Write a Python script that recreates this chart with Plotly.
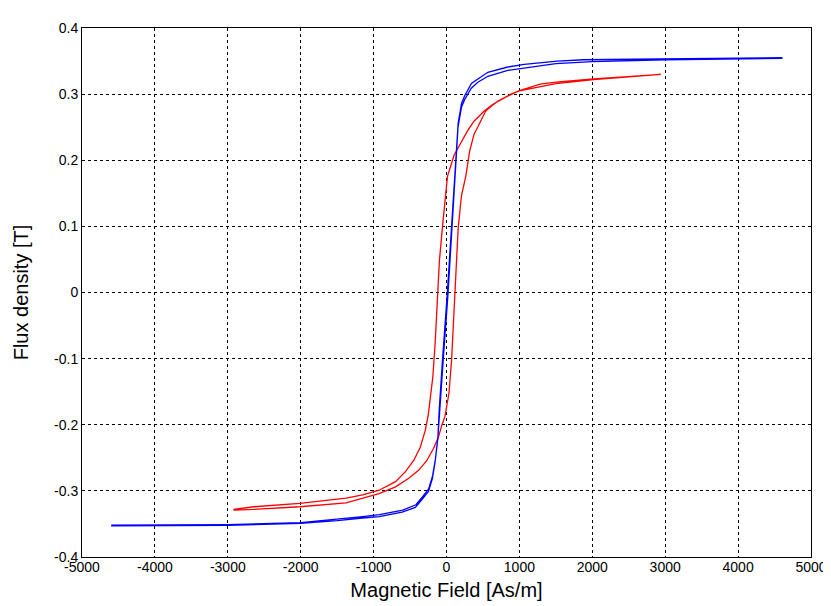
import plotly.graph_objects as go

# blue loop (narrow): ascending branch, then descending branch
blue_up_h = [-4600, -4000, -3000, -2000, -1500, -1150, -925, -608, -427, -337, -247, -193,
             -156, -119, -95, -75, -45, 20, 75, 110, 135, 158, 205, 250, 340, 430, 567, 840,
             1500, 2000, 3000, 4000, 4600]
blue_up_b = [-0.353, -0.353, -0.352, -0.349, -0.345, -0.341, -0.339, -0.332, -0.325, -0.313,
             -0.301, -0.281, -0.256, -0.221, -0.180, -0.148, -0.102, -0.003, 0.097, 0.170,
             0.210, 0.250, 0.280, 0.292, 0.309, 0.318, 0.327, 0.336, 0.346, 0.349, 0.352,
             0.353, 0.354]
blue_dn_h = [4600, 3200, 1880, 1520, 1065, 840, 567, 431, 342, 251, 206, 160, 138, 115, 65,
             10, -55, -88, -100, -117, -152, -190, -245, -330, -420, -600, -920, -1150, -2000,
             -3000, -4000, -4600]
blue_dn_b = [0.355, 0.354, 0.352, 0.350, 0.345, 0.341, 0.333, 0.323, 0.316, 0.298, 0.286,
             0.256, 0.216, 0.178, 0.097, -0.003, -0.102, -0.148, -0.178, -0.218, -0.252,
             -0.277, -0.297, -0.309, -0.321, -0.329, -0.336, -0.339, -0.348, -0.351, -0.352,
             -0.352]

# red loop (wider): descending branch, then ascending branch
red_dn_h = [2940, 2500, 2018, 1500, 1285, 990, 786, 627, 514, 377, 286, 196, 105, 14, -30,
            -55, -98, -119, -156, -187, -224, -250, -292, -360, -450, -563, -699, -925, -1150,
            -1377, -2011, -2643, -2914]
red_dn_b = [0.330, 0.327, 0.323, 0.318, 0.315, 0.305, 0.294, 0.284, 0.274, 0.259, 0.244,
            0.226, 0.208, 0.176, 0.130, 0.100, 0.047, -0.003, -0.077, -0.127, -0.167, -0.185,
            -0.209, -0.234, -0.254, -0.271, -0.286, -0.299, -0.306, -0.311, -0.319, -0.324,
            -0.328]
red_up_h = [-2914, -2643, -2011, -1377, -1150, -925, -699, -518, -383, -269, -179, -111, -65,
            -20, 34, 70, 92, 115, 138, 160, 206, 265, 318, 377, 468, 536, 604, 700, 885, 1000,
            1500, 2018, 2500, 2940]
red_up_b = [-0.329, -0.328, -0.324, -0.318, -0.311, -0.304, -0.294, -0.281, -0.269, -0.254,
            -0.236, -0.219, -0.201, -0.187, -0.152, -0.102, -0.053, -0.003, 0.047, 0.097,
            0.147, 0.176, 0.214, 0.239, 0.259, 0.274, 0.281, 0.289, 0.300, 0.305, 0.316,
            0.322, 0.326, 0.330]

x_ticks = [-5000, -4000, -3000, -2000, -1000, 0, 1000, 2000, 3000, 4000, 5000]
x_labels = ["-5000", "-4000", "-3000", "-2000", "-1000", "0", "1000", "2000", "3000", "4000", "5000"]
y_ticks = [-0.4, -0.3, -0.2, -0.1, 0, 0.1, 0.2, 0.3, 0.4]
y_labels = ["-0.4", "-0.3", "-0.2", "-0.1", "0", "0.1", "0.2", "0.3", "0.4"]

fig = go.Figure()
fig.add_trace(go.Scatter(x=red_dn_h + red_up_h, y=red_dn_b + red_up_b, mode="lines",
                         line=dict(color="#ff0000", width=1.3)))
fig.add_trace(go.Scatter(x=blue_up_h + blue_dn_h, y=blue_up_b + blue_dn_b, mode="lines",
                         line=dict(color="#0000ff", width=1.3)))

axis_font = dict(family="Liberation Sans, Arial", size=14, color="black")
title_font = dict(family="Liberation Sans, Arial", size=20, color="black")
fig.update_layout(
    width=831, height=606,
    margin=dict(l=73, r=21, t=14, b=57),
    paper_bgcolor="white", plot_bgcolor="white",
    showlegend=False,
    xaxis=dict(range=[-5000, 5000], tickvals=x_ticks, ticktext=x_labels,
               showline=True, linecolor="black", linewidth=1, mirror=True,
               showgrid=True, gridcolor="black", gridwidth=1, griddash="3px,3px",
               zeroline=False, ticks="", ticklen=0, ticklabelstandoff=-3, tickfont=axis_font,
               title=dict(text="Magnetic Field [As/m]", standoff=9, font=title_font)),
    yaxis=dict(range=[-0.4, 0.4], tickvals=y_ticks, ticktext=y_labels,
               showline=True, linecolor="black", linewidth=1, mirror=True,
               showgrid=True, gridcolor="black", gridwidth=1, griddash="3px,3px",
               zeroline=False, ticks="", ticklen=0, tickfont=axis_font,
               title=dict(text="Flux density [T]", standoff=20, font=title_font)),
)

fig.write_html("out.html")
